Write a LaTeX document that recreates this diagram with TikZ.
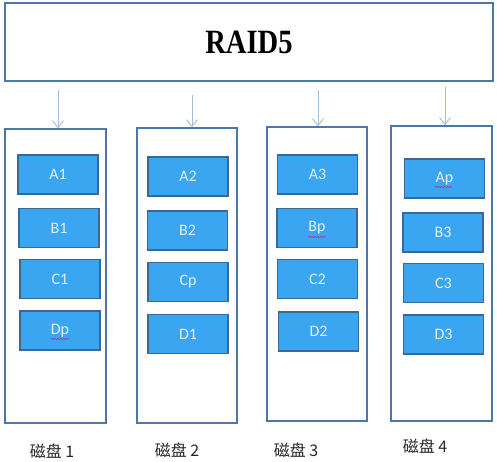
\documentclass[tikz,border=0pt]{standalone}
\usepackage{fontspec}
\setmainfont{Liberation Serif}
\newfontfamily\blkfont{Carlito}
\newfontfamily\cjkfont{Noto Sans CJK SC}
\usetikzlibrary{arrows.meta,decorations.pathmorphing}
\definecolor{boxline}{RGB}{74,120,168}
\definecolor{blkfill}{RGB}{58,166,242}
\definecolor{blkline}{RGB}{60,104,148}
\definecolor{blktext}{RGB}{226,240,252}
\definecolor{arrcol}{RGB}{160,190,215}
\definecolor{squig}{RGB}{170,60,150}
\tikzset{
  outerbox/.style={draw=boxline, line width=1.4pt, fill=white, inner sep=0pt, minimum width=#1},
  diskbox/.style={draw=boxline, line width=1.4pt, fill=white, inner sep=0pt, minimum width=100pt, minimum height=294pt},
  blk/.style={draw=blkline, line width=1.2pt, fill=blkfill, inner sep=0pt, minimum width=80pt, minimum height=39pt, text=blktext, font=\blkfont\fontsize{16}{16}\selectfont},
  arr/.style={draw=arrcol, line width=0.9pt, -{Straight Barb[length=7pt,width=11pt]}},
  disklabel/.style={font=\cjkfont\fontsize{16}{16}\selectfont, text=black!85},
  wavy/.style={draw=squig, line width=0.6pt, decorate, decoration={snake, amplitude=0.8pt, segment length=3pt}}
}
\begin{document}
\begin{tikzpicture}[x=1pt,y=-1pt]
\useasboundingbox (0,0) rectangle (497,462);
\node[outerbox=488pt, minimum height=78pt] (top) at (249,42) {};
\node (title) at (249,42) {\fontsize{34}{34}\selectfont\bfseries\scalebox{0.84}[1]{RAID5}};

\node[diskbox, minimum width=101pt] (d1) at (55.5,276) {};
\node[diskbox, minimum height=295pt] (d2) at (187,275.5) {};
\node[diskbox] (d3) at (317,274) {};
\node[diskbox, minimum width=101pt, minimum height=295pt] (d4) at (441.5,273.5) {};

\coordinate (s1) at (58,90);
\coordinate (s2) at (192,95);
\coordinate (s3) at (318,90);
\coordinate (s4) at (445,87);
\draw[arr] (s1) -- (s1 |- d1.north);
\draw[arr] (s2) -- (s2 |- d2.north);
\draw[arr] (s3) -- (s3 |- d3.north);
\draw[arr] (s4) -- (s4 |- d4.north);

\node[blk] (a1) at (58,174.5) {A1};
\node[blk] (b1) at (59,228) {B1};
\node[blk] (c1) at (60,279) {C1};
\node[blk] (dp) at (60,330.5) {Dp};

\node[blk] (a2) at (188,176.5) {A2};
\node[blk] (b2) at (187.5,230.5) {B2};
\node[blk] (cp) at (188,282) {Cp};
\node[blk] (dd1) at (188,334) {D1};

\node[blk] (a3) at (317.5,174.5) {A3};
\node[blk] (bp) at (317,228) {Bp};
\node[blk] (c2) at (317.5,279) {C2};
\node[blk] (dd2) at (318.5,331.5) {D2};

\node[blk] (ap) at (444.5,178.5) {Ap};
\node[blk] (b3) at (443,232.5) {B3};
\node[blk] (c3) at (443.5,283) {C3};
\node[blk] (dd3) at (443.5,334.5) {D3};

\draw[wavy] (51,339) -- (69,339);
\draw[wavy] (308,237) -- (326,237);
\draw[wavy] (435,187) -- (452,187);

\node[disklabel] (l1) at (52,451) {磁盘 1};
\node[disklabel] (l2) at (177,450) {磁盘 2};
\node[disklabel] (l3) at (296,450) {磁盘 3};
\node[disklabel] (l4) at (425,446) {磁盘 4};
\end{tikzpicture}
\end{document}
